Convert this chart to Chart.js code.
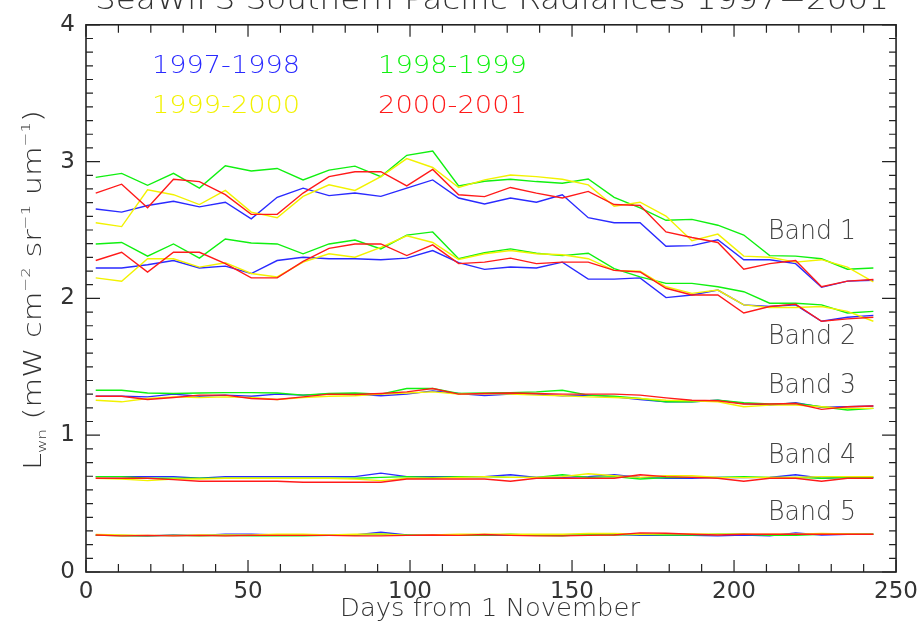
<!DOCTYPE html>
<html>
<head>
<meta charset="utf-8">
<script src="https://cdn.jsdelivr.net/npm/chart.js@4.4.0/dist/chart.umd.min.js"></script>
<style>
  html, body { margin: 0; padding: 0; background: #fff; }
  #wrap { width: 924px; height: 623px; }
</style>
</head>
<body>
<div id="wrap"><canvas id="chart" width="924" height="623"></canvas></div>
<script>
// 8-day composites, days from 1 November
const days = [3, 11, 19, 27, 35, 43, 51, 59, 67, 75, 83, 91, 99, 107, 115, 123,
              131, 139, 147, 155, 163, 171, 179, 187, 195, 203, 211, 219, 227, 235, 243];

const seasons = ['1997-1998', '1998-1999', '1999-2000', '2000-2001'];
const bandNames = ['Band 1', 'Band 2', 'Band 3', 'Band 4', 'Band 5'];
const yTicks = [0, 1, 2, 3, 4];
const xTicks = [0, 50, 100, 150, 200, 250];

// Band 1
const b1_9798 = [2.654, 2.631, 2.679, 2.710, 2.669, 2.703, 2.582, 2.739, 2.806, 2.751, 2.770, 2.746, 2.806, 2.866, 2.734, 2.690,
                 2.734, 2.703, 2.758, 2.590, 2.553, 2.553, 2.381, 2.386, 2.429, 2.283, 2.283, 2.254, 2.081, 2.126, 2.133];
const b1_9899 = [2.885, 2.914, 2.827, 2.914, 2.806, 2.969, 2.931, 2.950, 2.866, 2.938, 2.967, 2.890, 3.046, 3.077, 2.822, 2.856,
                 2.871, 2.854, 2.842, 2.873, 2.739, 2.662, 2.571, 2.578, 2.535, 2.463, 2.313, 2.309, 2.290, 2.213, 2.222];
const b1_9900 = [2.553, 2.525, 2.794, 2.758, 2.686, 2.789, 2.631, 2.590, 2.746, 2.830, 2.789, 2.890, 3.022, 2.957, 2.811, 2.866,
                 2.902, 2.890, 2.871, 2.830, 2.674, 2.703, 2.602, 2.422, 2.470, 2.309, 2.301, 2.265, 2.283, 2.229, 2.121];
const b1_0001 = [2.770, 2.835, 2.662, 2.871, 2.854, 2.758, 2.614, 2.614, 2.770, 2.890, 2.926, 2.926, 2.823, 2.943, 2.758, 2.744,
                 2.811, 2.770, 2.734, 2.782, 2.686, 2.679, 2.486, 2.445, 2.409, 2.213, 2.254, 2.277, 2.085, 2.126, 2.138];

// Band 2
const b2_9798 = [2.222, 2.222, 2.246, 2.277, 2.222, 2.236, 2.182, 2.277, 2.301, 2.290, 2.290, 2.283, 2.294, 2.350, 2.261, 2.212,
                 2.229, 2.222, 2.265, 2.141, 2.141, 2.150, 2.006, 2.025, 2.061, 1.953, 1.941, 1.953, 1.833, 1.862, 1.876];
const b2_9899 = [2.398, 2.409, 2.309, 2.398, 2.294, 2.434, 2.405, 2.398, 2.326, 2.398, 2.427, 2.362, 2.463, 2.486, 2.290, 2.334,
                 2.362, 2.330, 2.313, 2.330, 2.218, 2.157, 2.110, 2.110, 2.085, 2.049, 1.965, 1.965, 1.953, 1.893, 1.905];
const b2_9900 = [2.150, 2.126, 2.290, 2.290, 2.229, 2.261, 2.182, 2.157, 2.265, 2.326, 2.301, 2.373, 2.458, 2.409, 2.285, 2.326,
                 2.350, 2.326, 2.319, 2.290, 2.205, 2.198, 2.085, 2.037, 2.061, 1.953, 1.934, 1.934, 1.941, 1.905, 1.833];
const b2_0001 = [2.277, 2.337, 2.193, 2.337, 2.337, 2.254, 2.150, 2.150, 2.270, 2.366, 2.398, 2.398, 2.313, 2.391, 2.254, 2.265,
                 2.294, 2.254, 2.265, 2.265, 2.205, 2.193, 2.074, 2.025, 2.025, 1.893, 1.941, 1.958, 1.833, 1.850, 1.862];

// Band 3
const b3_9798 = [1.285, 1.285, 1.280, 1.300, 1.285, 1.293, 1.285, 1.300, 1.293, 1.300, 1.300, 1.288, 1.300, 1.324, 1.305, 1.290,
                 1.300, 1.300, 1.288, 1.293, 1.280, 1.261, 1.244, 1.244, 1.256, 1.232, 1.220, 1.237, 1.204, 1.208, 1.213];
const b3_9899 = [1.329, 1.329, 1.309, 1.305, 1.309, 1.311, 1.311, 1.309, 1.293, 1.305, 1.309, 1.300, 1.341, 1.341, 1.305, 1.309,
                 1.311, 1.317, 1.329, 1.293, 1.285, 1.268, 1.244, 1.244, 1.256, 1.237, 1.228, 1.232, 1.208, 1.184, 1.196];
const b3_9900 = [1.256, 1.244, 1.268, 1.280, 1.276, 1.280, 1.276, 1.261, 1.276, 1.285, 1.288, 1.300, 1.309, 1.317, 1.300, 1.305,
                 1.300, 1.293, 1.288, 1.280, 1.276, 1.268, 1.256, 1.252, 1.244, 1.208, 1.220, 1.220, 1.208, 1.196, 1.196];
const b3_0001 = [1.285, 1.285, 1.261, 1.276, 1.293, 1.293, 1.268, 1.261, 1.280, 1.300, 1.297, 1.305, 1.317, 1.341, 1.300, 1.305,
                 1.309, 1.305, 1.300, 1.300, 1.300, 1.293, 1.273, 1.256, 1.252, 1.228, 1.228, 1.232, 1.189, 1.208, 1.213];

// Band 4
const b4_9798 = [0.697, 0.697, 0.697, 0.697, 0.685, 0.697, 0.697, 0.697, 0.697, 0.697, 0.697, 0.723, 0.697, 0.697, 0.697, 0.697,
                 0.711, 0.692, 0.692, 0.697, 0.711, 0.692, 0.685, 0.685, 0.692, 0.690, 0.692, 0.711, 0.685, 0.692, 0.692];
const b4_9899 = [0.697, 0.697, 0.685, 0.685, 0.685, 0.685, 0.685, 0.685, 0.685, 0.685, 0.685, 0.692, 0.697, 0.692, 0.697, 0.697,
                 0.692, 0.692, 0.711, 0.692, 0.697, 0.680, 0.690, 0.692, 0.692, 0.697, 0.692, 0.692, 0.685, 0.692, 0.692];
const b4_9900 = [0.685, 0.680, 0.668, 0.680, 0.680, 0.685, 0.685, 0.685, 0.685, 0.685, 0.680, 0.668, 0.685, 0.685, 0.692, 0.697,
                 0.692, 0.692, 0.697, 0.718, 0.704, 0.692, 0.704, 0.704, 0.692, 0.690, 0.692, 0.692, 0.697, 0.697, 0.697];
const b4_0001 = [0.685, 0.685, 0.685, 0.675, 0.663, 0.663, 0.663, 0.663, 0.656, 0.656, 0.656, 0.656, 0.680, 0.680, 0.680, 0.680,
                 0.663, 0.685, 0.685, 0.685, 0.685, 0.711, 0.697, 0.692, 0.685, 0.663, 0.685, 0.685, 0.663, 0.685, 0.685];

// Band 5
const b5_9798 = [0.268, 0.268, 0.264, 0.271, 0.268, 0.276, 0.276, 0.271, 0.271, 0.268, 0.271, 0.291, 0.271, 0.268, 0.271, 0.268,
                 0.271, 0.268, 0.271, 0.276, 0.276, 0.268, 0.271, 0.268, 0.264, 0.271, 0.264, 0.286, 0.271, 0.276, 0.276];
const b5_9899 = [0.271, 0.264, 0.264, 0.268, 0.264, 0.268, 0.264, 0.264, 0.264, 0.268, 0.271, 0.276, 0.271, 0.268, 0.271, 0.268,
                 0.276, 0.268, 0.264, 0.276, 0.271, 0.276, 0.271, 0.271, 0.276, 0.276, 0.268, 0.268, 0.276, 0.276, 0.276];
const b5_9900 = [0.274, 0.271, 0.268, 0.268, 0.271, 0.271, 0.271, 0.276, 0.276, 0.271, 0.276, 0.279, 0.268, 0.271, 0.276, 0.276,
                 0.276, 0.276, 0.276, 0.281, 0.281, 0.276, 0.279, 0.279, 0.276, 0.276, 0.276, 0.276, 0.281, 0.279, 0.276];
const b5_0001 = [0.271, 0.264, 0.268, 0.264, 0.268, 0.264, 0.268, 0.268, 0.268, 0.268, 0.264, 0.264, 0.268, 0.271, 0.268, 0.274,
                 0.268, 0.264, 0.264, 0.268, 0.271, 0.286, 0.283, 0.276, 0.271, 0.276, 0.276, 0.276, 0.276, 0.276, 0.276];

const seasonColors = ['#2a2aff', '#10f010', '#f2f200', '#ff1a1a'];
const seasonBands = [
    [b1_9798, b2_9798, b3_9798, b4_9798, b5_9798],
    [b1_9899, b2_9899, b3_9899, b4_9899, b5_9899],
    [b1_9900, b2_9900, b3_9900, b4_9900, b5_9900],
    [b1_0001, b2_0001, b3_0001, b4_0001, b5_0001]
];

const FONT = '"DejaVu Sans", "Liberation Sans", sans-serif';
const TEXT = '#333';

function buildDatasets() {
    const sets = [];
    seasonBands.forEach((bands, s) => {
        bands.forEach((vals, b) => {
            sets.push({
                label: seasons[s] + ' ' + bandNames[b],
                data: vals.map((v, i) => ({ x: days[i], y: v })),
                borderColor: seasonColors[s],
                borderWidth: 1.4,
                pointRadius: 0,
                tension: 0,
                fill: false,
                order: 3 - s   // later seasons drawn on top
            });
        });
    });
    return sets;
}

// text squeezed/stretched to a measured width
function fitText(ctx, text, x, y, width, size, color) {
    ctx.save();
    ctx.font = '300 ' + size + 'px ' + FONT;
    const w = ctx.measureText(text).width;
    ctx.translate(x, y);
    ctx.scale(width / w, 1);
    ctx.fillStyle = color;
    ctx.textAlign = 'left';
    ctx.textBaseline = 'alphabetic';
    ctx.fillText(text, 0, 0);
    ctx.restore();
}

function drawYTitle(ctx) {
    const parts = [
        { t: 'L', s: 24, dy: 0 },
        { t: 'wn', s: 13, dy: 5 },
        { t: ' (mW cm', s: 24, dy: 0 },
        { t: '\u22122', s: 13, dy: -11 },
        { t: ' sr', s: 24, dy: 0 },
        { t: '\u22121', s: 13, dy: -11 },
        { t: ' um', s: 24, dy: 0 },
        { t: '\u22121', s: 13, dy: -11 },
        { t: ')', s: 24, dy: 0 }
    ];
    ctx.save();
    let total = 0;
    parts.forEach(p => {
        ctx.font = '300 ' + p.s + 'px ' + FONT;
        p.w = ctx.measureText(p.t).width;
        total += p.w;
    });
    const from = 470, to = 110;
    const k = (from - to) / total;
    ctx.translate(41, from);
    ctx.rotate(-Math.PI / 2);
    ctx.scale(k, 1);
    ctx.fillStyle = TEXT;
    ctx.textBaseline = 'alphabetic';
    let cx = 0;
    parts.forEach(p => {
        ctx.font = '300 ' + p.s + 'px ' + FONT;
        ctx.fillText(p.t, cx, p.dy);
        cx += p.w;
    });
    ctx.restore();
}

const idlFrame = {
    id: 'idlFrame',
    afterDatasetsDraw(chart) {
        const { ctx, chartArea: a, scales: { x, y } } = chart;
        ctx.save();
        ctx.strokeStyle = '#222';
        ctx.lineWidth = 1.6;
        ctx.strokeRect(a.left, a.top, a.right - a.left, a.bottom - a.top);

        // inward ticks on all four sides
        ctx.lineWidth = 1.2;
        ctx.beginPath();
        for (let d = 0; d <= 250; d += 10) {
            const px = x.getPixelForValue(d);
            const len = d % 50 === 0 ? 12 : 8;
            ctx.moveTo(px, a.bottom); ctx.lineTo(px, a.bottom - len);
            ctx.moveTo(px, a.top); ctx.lineTo(px, a.top + len);
        }
        for (let i = 0; i <= 40; i++) {
            const py = y.getPixelForValue(i / 10);
            const len = i % 10 === 0 ? 14 : 7;
            ctx.moveTo(a.left, py); ctx.lineTo(a.left + len, py);
            ctx.moveTo(a.right, py); ctx.lineTo(a.right - len, py);
        }
        ctx.stroke();
        ctx.restore();
    },
    afterDraw(chart) {
        const ctx = chart.ctx;
        // title, cut off by the top edge
        fitText(ctx, 'SeaWiFS Southern Pacific Radiances 1997\u22122001', 95, 9, 794, 28, TEXT);

        // season key
        fitText(ctx, seasons[0], 152, 73, 148, 25, seasonColors[0]);
        fitText(ctx, seasons[1], 378, 73, 149, 25, seasonColors[1]);
        fitText(ctx, seasons[2], 152, 113, 148, 25, seasonColors[2]);
        fitText(ctx, seasons[3], 378, 113, 149, 25, seasonColors[3]);

        // band labels
        const bandBase = [239, 344, 393, 463, 520];
        bandNames.forEach((n, i) => fitText(ctx, n, 768, bandBase[i], 88, 26, '#444'));

        // axis titles
        fitText(ctx, 'Days from 1 November', 340, 616, 300, 24, TEXT);
        drawYTitle(ctx);
    }
};

new Chart(document.getElementById('chart'), {
    type: 'line',
    data: { datasets: buildDatasets() },
    options: {
        responsive: false,
        animation: false,
        layout: { padding: { left: 0, top: 16, right: 26, bottom: 0 } },
        plugins: { legend: { display: false }, tooltip: { enabled: false } },
        scales: {
            x: {
                type: 'linear',
                min: 0,
                max: 250,
                afterBuildTicks: s => { s.ticks = xTicks.map(v => ({ value: v })); },
                afterFit: s => { s.height = 51; },
                grid: { display: false, drawTicks: false },
                border: { display: false },
                ticks: { color: TEXT, padding: 6, font: { family: FONT, size: 23 }, maxRotation: 0 }
            },
            y: {
                type: 'linear',
                min: 0,
                max: 4,
                afterBuildTicks: s => { s.ticks = yTicks.map(v => ({ value: v })); },
                afterFit: s => { s.width = 86; },
                grid: { display: false, drawTicks: false },
                border: { display: false },
                ticks: { color: TEXT, padding: 11, font: { family: FONT, size: 23 } }
            }
        }
    },
    plugins: [idlFrame]
});
</script>
</body>
</html>
